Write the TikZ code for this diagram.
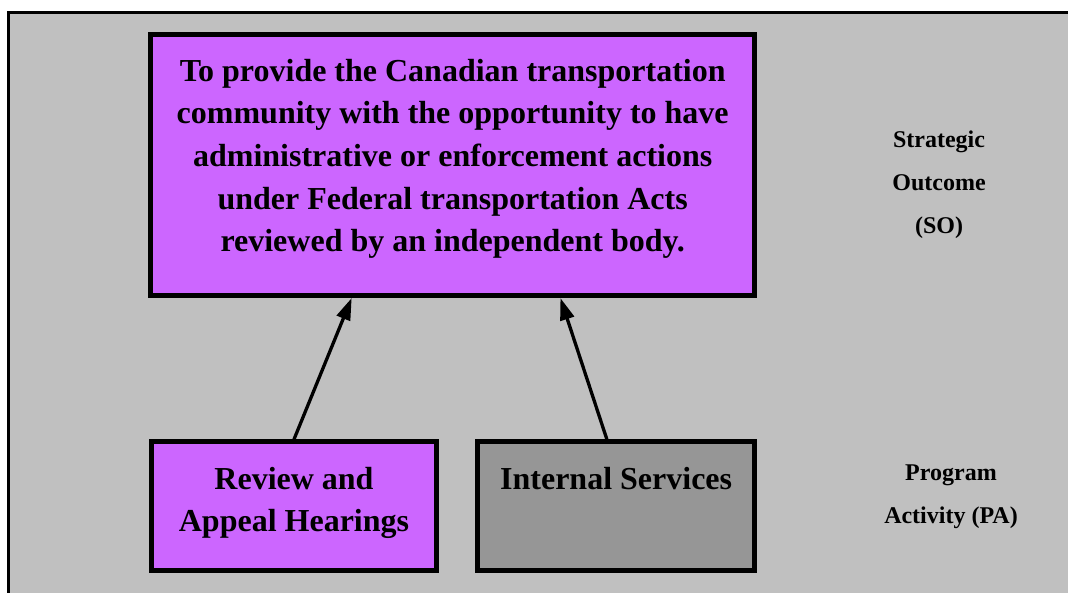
\documentclass[tikz,border=0pt]{standalone}
\usepackage{fontspec}
\setmainfont{Liberation Serif}
\usetikzlibrary{arrows.meta,calc}
\definecolor{bggray}{RGB}{192,192,192}
\definecolor{boxpurple}{RGB}{204,102,255}
\definecolor{boxgray}{RGB}{150,150,150}
\tikzset{
  framebox/.style={draw=black, line width=5pt, rectangle, inner sep=0pt},
  bigtext/.style={font=\fontsize{32}{42.7}\selectfont\bfseries, align=center, inner sep=0pt, anchor=base},
  smalltext/.style={font=\fontsize{32}{42.7}\selectfont\bfseries, align=center, inner sep=0pt, anchor=base},
  sidetext/.style={font=\fontsize{24}{43}\selectfont\bfseries, align=center, inner sep=0pt, anchor=base},
  uparrow/.style={line width=3.3pt, -{Triangle[length=22pt,width=14pt]}}
}
\begin{document}
\begin{tikzpicture}[x=1pt,y=-1pt]
\useasboundingbox (0,0) rectangle (1068,592);
\clip (0,0) rectangle (1068,592);
\fill[white] (0,0) rectangle (1068,592);
\draw[fill=bggray, draw=black, line width=3pt] (8.8,12.7) rectangle (1090,620);
% boxes
\node[framebox, fill=boxpurple, minimum width=603.6pt, minimum height=261.3pt] (so) at (452.7,164.85) {};
\node[framebox, fill=boxpurple, minimum width=285.6pt, minimum height=128.4pt] (rah) at (294,506) {};
\node[framebox, fill=boxgray, minimum width=276.7pt, minimum height=128.4pt] (is) at (616.15,506) {};
% texts (base anchor = baseline of last line)
\node[bigtext] (sotext) at (452.7,251.8) {To provide the Canadian transportation\\community with the opportunity to have\\administrative or enforcement actions\\under Federal transportation Acts\\reviewed by an independent body.};
\node[smalltext] (rahtext) at (294,531.7) {Review and\\Appeal Hearings};
\node[smalltext] (istext) at (616.15,489) {Internal Services};
\node[sidetext] (solabel) at (939,233.7) {Strategic\\Outcome\\(SO)};
\node[sidetext] (palabel) at (951,523.7) {Program\\Activity (PA)};
% arrows
\draw[uparrow] (rah.north) -- ($(so.south west)!0.334!(so.south east)$);
\draw[uparrow] ($(is.north west)!0.467!(is.north east)$) -- ($(so.south west)!0.677!(so.south east)$);
\end{tikzpicture}
\end{document}
